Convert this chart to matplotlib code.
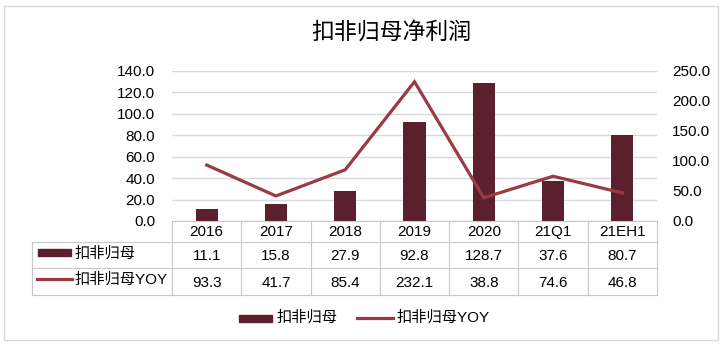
import matplotlib
matplotlib.use("Agg")
import matplotlib.pyplot as plt
from matplotlib.patches import Rectangle
from matplotlib.lines import Line2D

plt.rcParams['font.family'] = ['Liberation Sans', 'Noto Sans CJK SC', 'DejaVu Sans']

categories = ["2016", "2017", "2018", "2019", "2020", "21Q1", "21EH1"]
profit = [11.1, 15.8, 27.9, 92.8, 128.7, 37.6, 80.7]
yoy = [93.3, 41.7, 85.4, 232.1, 38.8, 74.6, 46.8]
title = "扣非归母净利润"
name_bar = "扣非归母"
name_line = "扣非归母YOY"
left_ticks = [0, 20, 40, 60, 80, 100, 120, 140]
right_ticks = [0, 50, 100, 150, 200, 250]

BAR_C = "#5C1F2E"
LINE_C = "#9B3A44"
GRID_C = "#D9D9D9"
TAB_C = "#C8C8C8"

W, H = 723, 346
fig = plt.figure(figsize=(W / 100, H / 100), dpi=100)

def fx(px):
    return px / W

def fy(py):
    return 1 - py / H

# outer border
fig.patches.append(Rectangle((fx(4), fy(340)), fx(714), 334 / H, transform=fig.transFigure,
                             fill=False, edgecolor="#D9D9D9", linewidth=1))

# main axes
L, R, T, B = 172, 657, 71, 221
ax = fig.add_axes([fx(L), fy(B), fx(R - L), (B - T) / H])
x = list(range(len(categories)))
ax.bar(x, profit, width=0.32, color=BAR_C, zorder=3)
ax.set_xlim(-0.5, len(categories) - 0.5)
ax.set_ylim(0, 140)
ax.set_yticks(left_ticks)
ax.set_yticklabels([f"{v:.1f}" for v in left_ticks], fontsize=11)
ax.set_xticks([])
ax.grid(axis="y", color=GRID_C, linewidth=1, zorder=0)
for s in ax.spines.values():
    s.set_visible(False)
ax.tick_params(axis="y", length=0, pad=12)
ax.set_facecolor("none")

ax2 = ax.twinx()
ax2.plot(x, yoy, color=LINE_C, linewidth=2.3, solid_joinstyle="miter", zorder=4)
ax2.set_ylim(0, 250)
ax2.set_yticks(right_ticks)
ax2.set_yticklabels([f"{v:.1f}" for v in right_ticks], fontsize=11)
ax2.tick_params(axis="y", length=0, pad=11)
for s in ax2.spines.values():
    s.set_visible(False)

# title
fig.text(fx(391.5), fy(32), title, ha="center", va="center", fontsize=16.5, fontweight="medium")

# data table
col_w = (R - L) / len(categories)
TL = 32
rows = [221, 241.7, 268.3, 295]
lw = 0.8
fig.add_artist(Line2D([fx(L), fx(R)], [fy(rows[0])] * 2, color=TAB_C, lw=lw))
for ry in rows[1:]:
    fig.add_artist(Line2D([fx(TL), fx(R)], [fy(ry)] * 2, color=TAB_C, lw=lw))
fig.add_artist(Line2D([fx(TL)] * 2, [fy(rows[1]), fy(rows[3])], color=TAB_C, lw=lw))
for i in range(len(categories) + 1):
    vx = L + i * col_w
    fig.add_artist(Line2D([fx(vx)] * 2, [fy(rows[0]), fy(rows[3])], color=TAB_C, lw=lw))

for i, c in enumerate(categories):
    cx = L + (i + 0.5) * col_w
    fig.text(fx(cx), fy((rows[0] + rows[1]) / 2 + 1), c, ha="center", va="center", fontsize=11)
    fig.text(fx(cx), fy((rows[1] + rows[2]) / 2 + 1), f"{profit[i]:.1f}", ha="center", va="center", fontsize=11)
    fig.text(fx(cx), fy((rows[2] + rows[3]) / 2 + 1), f"{yoy[i]:.1f}", ha="center", va="center", fontsize=11)

# table legend keys
fig.patches.append(Rectangle((fx(38), fy(256)), fx(33), 7 / H, transform=fig.transFigure,
                             color=BAR_C))
fig.add_artist(Line2D([fx(37), fx(72)], [fy(279)] * 2, color=LINE_C, lw=2.3))
fig.text(fx(75), fy(253.5), name_bar, ha="left", va="center", fontsize=11)
fig.text(fx(75), fy(280), name_line, ha="left", va="center", fontsize=11)

# bottom legend
ly = 318
fig.patches.append(Rectangle((fx(239), fy(ly + 3.5)), fx(33), 7 / H, transform=fig.transFigure,
                             color=BAR_C))
fig.text(fx(277), fy(ly), name_bar, ha="left", va="center", fontsize=11)
fig.add_artist(Line2D([fx(357), fx(393)], [fy(ly)] * 2, color=LINE_C, lw=2.3))
fig.text(fx(397), fy(ly), name_line, ha="left", va="center", fontsize=11)

fig.savefig("out.png", dpi=100)
